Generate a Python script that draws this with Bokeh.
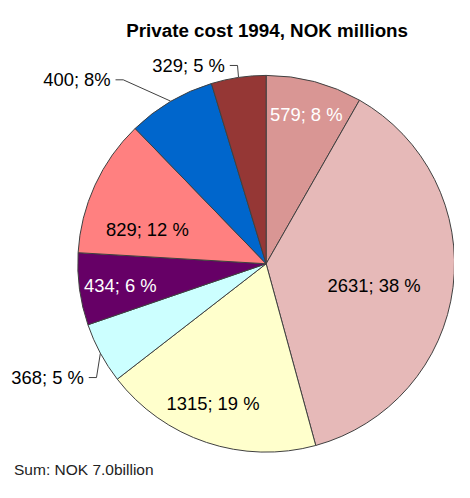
import numpy as np
from bokeh.plotting import figure
from bokeh.models import Range1d, ColumnDataSource
from bokeh.embed import file_html
from bokeh.resources import INLINE
from bokeh.core.properties import value

# ---------------- data ----------------
title_text = "Private cost 1994, NOK millions"
values = [579, 2631, 1315, 368, 434, 829, 530, 329]
labels = ["579; 8 %", "2631; 38 %", "1315; 19 %", "368; 5 %",
          "434; 6 %", "829; 12 %", "400; 8%", "329; 5 %"]
colors = ["#D99694", "#E6B9B8", "#FFFFCC", "#CCFFFF",
          "#660066", "#FF8080", "#0066CC", "#953735"]
text_colors = ["#FFFFFF", "#000000", "#000000", "#000000",
               "#FFFFFF", "#000000", "#000000", "#000000"]
note_text = "Sum: NOK 7.0billion"

# ---------------- layout (reference-pixel units, y measured from top) ----------------
W, H = 470, 498
FIG_W, FIG_H = 454, 482
K = FIG_W / W                      # screen px per layout unit
CX, CY, R = 275, 272, 195
# inside labels: (radial fraction, angle offset deg); outside: ("out", elbow dx, elbow dy)
label_layout = [("in", 0.853, -0.4), ("in", 0.578, 0.4), ("in", 0.757, 3.4),
                ("out", -4, 25), ("in", 0.778, 2.1), ("in", 0.667, -5.6),
                ("out", -49, -22), ("out", -1, -12)]


def fs(px):
    return "%.1fpx" % (px * K)


def Y(y):
    return H - y


vals = np.array(values, dtype=float)
frac = vals / vals.sum()
cum = np.concatenate([[0.0], np.cumsum(frac)])
theta0 = cum[:-1] * 2 * np.pi        # clockwise from 12 o'clock
theta1 = cum[1:] * 2 * np.pi
mid = (theta0 + theta1) / 2

p = figure(width=FIG_W, height=FIG_H, x_range=Range1d(0, W), y_range=Range1d(0, H),
           output_backend="svg", toolbar_location=None, min_border=0,
           x_axis_type=None, y_axis_type=None, outline_line_color=None,
           background_fill_color="white", border_fill_color="white")
p.grid.visible = False

src = ColumnDataSource(dict(
    x=[CX] * len(vals), y=[Y(CY)] * len(vals),
    start=np.pi / 2 - theta0, end=np.pi / 2 - theta1, color=colors))
p.wedge(x="x", y="y", radius=R, start_angle="start", end_angle="end",
        direction="clock", fill_color="color", line_color="#404040",
        line_width=1, source=src)

in_x, in_y, in_t, in_c = [], [], [], []
out_x, out_y, out_t = [], [], []
lx, ly = [], []
for i, spec in enumerate(label_layout):
    if spec[0] == "in":
        a = mid[i] + np.deg2rad(spec[2])
        px = CX + spec[1] * R * np.sin(a)
        py = CY - spec[1] * R * np.cos(a)
        in_x.append(px)
        in_y.append(Y(py + 7))
        in_t.append(labels[i])
        in_c.append(text_colors[i])
    else:
        ex = CX + R * np.sin(mid[i])
        ey = CY - R * np.cos(mid[i])
        bx, by = ex + spec[1], ey + spec[2]
        hx = bx - 8
        lx.append([ex, bx, hx])
        ly.append([Y(ey), Y(by), Y(by)])
        out_x.append(hx - 5)
        out_y.append(Y(by))
        out_t.append(labels[i])

p.multi_line(xs=lx, ys=ly, line_color="#404040", line_width=1)

p.text(x=in_x, y=in_y, text=in_t, text_color=in_c, text_font=value("Liberation Sans"),
       text_font_size=fs(19), text_align="center", text_baseline="alphabetic")
p.text(x=out_x, y=out_y, text=out_t, text_color="#000000", text_font=value("Liberation Sans"),
       text_font_size=fs(19), text_align="right", text_baseline="alphabetic")

p.text(x=[276], y=[Y(31)], text=[title_text], text_color="#000000",
       text_font=value("Liberation Sans"), text_font_style="bold",
       text_font_size=fs(19.5), text_align="center", text_baseline="alphabetic")
p.text(x=[14], y=[Y(485)], text=[note_text], text_color="#222222",
       text_font=value("Liberation Sans"), text_font_size=fs(16),
       text_align="left", text_baseline="alphabetic")

open("out.html", "w").write(file_html(p, INLINE))
